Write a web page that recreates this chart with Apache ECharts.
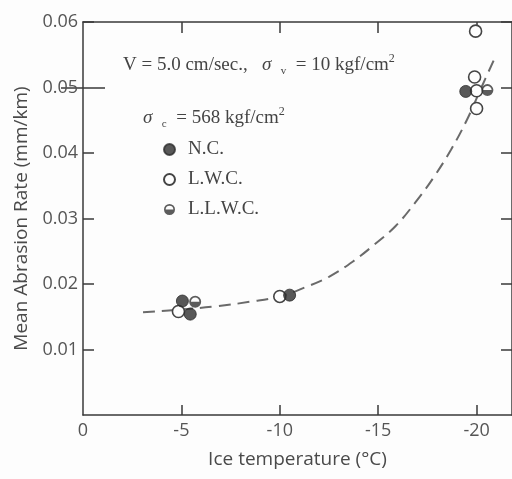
<!DOCTYPE html>
<html>
<head>
<meta charset="utf-8">
<script src="https://cdn.jsdelivr.net/npm/echarts@6/dist/echarts.min.js"></script>
<style>
  html, body { margin: 0; padding: 0; background: #fdfdfd; }
  #chart { width: 512px; height: 479px; }
</style>
</head>
<body>
<div id="chart"></div>
<script>
// Ice temperature (°C) and mean abrasion rate (mm/km) per concrete type
const ncTemp = [-5.05, -5.45, -10.5, -19.45];
const ncRate = [0.0174, 0.0154, 0.0183, 0.0494];

const lwcTemp = [-4.85, -10.0, -19.95, -19.9, -20.0, -20.0];
const lwcRate = [0.0158, 0.0181, 0.0586, 0.0516, 0.0495, 0.0468];

const llwcTemp = [-5.7, -20.55];
const llwcRate = [0.0173, 0.0496];

// Fitted trend curve
const curveTemp = [-3.05, -5.0, -6.8, -8.5, -10.0, -11.3, -12.5, -13.7, -14.8, -15.9, -16.9, -17.8, -18.7, -19.5, -20.2, -21.0];
const curveRate = [0.0157, 0.0161, 0.0166, 0.0173, 0.0181, 0.0195, 0.0211, 0.0234, 0.0260, 0.0289, 0.0325, 0.0362, 0.0405, 0.0450, 0.0497, 0.0550];

// Axis ticks
const xTicks = [0, -5, -10, -15, -20];
const yTicks = [0.01, 0.02, 0.03, 0.04, 0.05, 0.06];
const yMajor = [0.05];

const pair = (xs, ys) => xs.map((x, i) => [x, ys[i]]);

const INK = '#3a3a3a';
const SANS = '"Open Sans", "Noto Sans", sans-serif';
const SERIF = '"Liberation Serif", "DejaVu Serif", serif';

// Circle outline with filled lower half (nonzero fill rule)
const HALF = 'path://M0,10 A10,10 0 1,1 20,10 A10,10 0 1,1 0,10 Z ' +
             'M3,10 A7,7 0 1,0 17,10 A7,7 0 1,0 3,10 Z ' +
             'M3,10 L17,10 A7,7 0 0,1 3,10 Z';

const chart = echarts.init(document.getElementById('chart'), null, { renderer: 'canvas' });

const tickStyle = { color: INK, width: 1.5 };
const xBase = {
  type: 'value', min: -21.8, max: 0, inverse: true,
  splitLine: { show: false },
  axisLine: { show: true, onZero: false, lineStyle: { color: INK, width: 1.5 } }
};
const yBase = {
  type: 'value', min: 0, max: 0.06,
  splitLine: { show: false },
  axisLine: { show: true, onZero: false, lineStyle: { color: INK, width: 1.5 } }
};
const tickOnly = (position, values, length) => Object.assign({}, yBase, {
  position,
  axisLine: { show: false },
  axisTick: { show: true, inside: true, length, customValues: values, lineStyle: tickStyle },
  axisLabel: { show: false }
});

const annotationRich = {
  g: { fontSize: 19, fontFamily: SERIF, fontStyle: 'italic', fill: '#444' },
  sub: { fontSize: 11, fontFamily: SERIF, fill: '#444', verticalAlign: 'bottom' },
  sup: { fontSize: 12, fontFamily: SERIF, fill: '#444', verticalAlign: 'top' }
};

chart.setOption({
  backgroundColor: '#fdfdfd',
  animation: false,
  grid: { left: 83, top: 22, right: -2, bottom: 64 },
  xAxis: [
    Object.assign({}, xBase, {
      position: 'bottom',
      name: 'Ice temperature (°C)', nameLocation: 'middle', nameGap: 35,
      nameTextStyle: { fontFamily: SANS, fontSize: 19, color: '#4a4a4a' },
      axisTick: { show: true, inside: true, length: 10, customValues: xTicks.slice(1), lineStyle: tickStyle },
      axisLabel: { show: true, customValues: xTicks, margin: 7,
                   fontFamily: SANS, fontSize: 18, color: '#555',
                   formatter: v => String(v) }
    }),
    Object.assign({}, xBase, {
      position: 'top',
      axisTick: { show: true, inside: true, length: 11, customValues: xTicks.slice(1), lineStyle: tickStyle },
      axisLabel: { show: false }
    })
  ],
  yAxis: [
    Object.assign({}, yBase, {
      position: 'left',
      name: 'Mean Abrasion Rate (mm/km)', nameLocation: 'middle', nameGap: 51,
      nameTextStyle: { fontFamily: SANS, fontSize: 19, color: '#4a4a4a' },
      axisTick: { show: true, inside: true, length: 11, customValues: yTicks, lineStyle: tickStyle },
      axisLabel: { show: true, customValues: yTicks, margin: 5,
                   fontFamily: SANS, fontSize: 18, color: '#555',
                   formatter: v => v.toFixed(2) }
    }),
    Object.assign({}, yBase, {
      position: 'right',
      axisTick: { show: true, inside: true, length: 11, customValues: yTicks, lineStyle: tickStyle },
      axisLabel: { show: false }
    }),
    tickOnly('left', yMajor, 22),
    tickOnly('right', yMajor, 22)
  ],
  legend: {
    orient: 'vertical', left: 158, top: 135,
    itemWidth: 11, itemHeight: 11, itemGap: 11,
    data: [
      { name: 'N.C.', icon: 'circle' },
      { name: 'L.W.C.', icon: 'circle' },
      { name: 'L.L.W.C.', icon: HALF }
    ],
    textStyle: { fontFamily: SERIF, fontSize: 19, color: '#444', padding: [0, 0, 0, 8] }
  },
  graphic: [
    {
      type: 'text', left: 123, top: 53,
      style: {
        text: 'V = 5.0 cm/sec.,   {g|σ}  {sub|v}  = 10 kgf/cm{sup|2}',
        font: '19px ' + SERIF, fill: '#444', lineHeight: 24,
        rich: annotationRich
      }
    },
    {
      type: 'text', left: 143, top: 106,
      style: {
        text: '{g|σ}  {sub|c}  = 568 kgf/cm{sup|2}',
        font: '19px ' + SERIF, fill: '#444', lineHeight: 24,
        rich: annotationRich
      }
    }
  ],
  series: [
    {
      name: 'curve', type: 'line', xAxisIndex: 0, yAxisIndex: 0,
      data: pair(curveTemp, curveRate), smooth: 0.4, showSymbol: false, z: 1,
      lineStyle: { color: '#6a6a6a', width: 2, type: [12, 7] }
    },
    {
      name: 'N.C.', type: 'scatter', data: pair(ncTemp, ncRate),
      symbol: 'circle', symbolSize: 12, z: 3,
      itemStyle: { color: '#2e2e2e', borderColor: '#2e2e2e', borderWidth: 1 }
    },
    {
      name: 'L.W.C.', type: 'scatter', data: pair(lwcTemp, lwcRate),
      symbol: 'circle', symbolSize: 12, z: 2,
      itemStyle: { color: '#fdfdfd', borderColor: '#444', borderWidth: 1.6, opacity: 1 }
    },
    {
      name: 'L.L.W.C.', type: 'scatter', data: pair(llwcTemp, llwcRate),
      symbol: HALF, symbolSize: 12, z: 3,
      itemStyle: { color: '#333' }
    }
  ]
});
</script>
</body>
</html>
